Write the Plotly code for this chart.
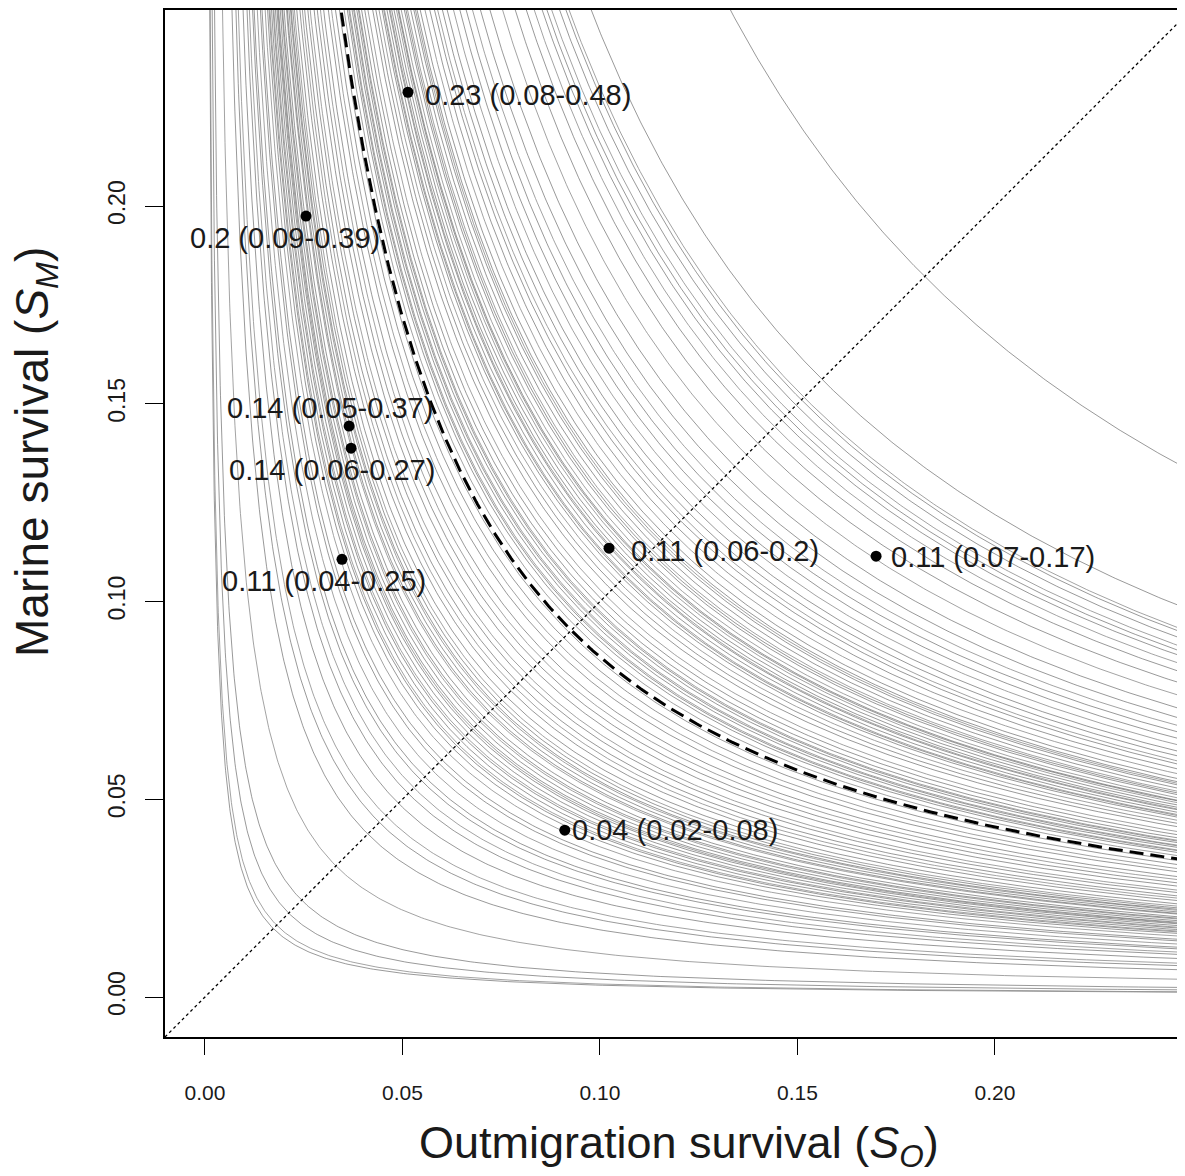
import numpy as np
import plotly.graph_objects as go

# Iso-product curves (S_O * S_M = c), c values
c_values = [
    0.00030, 0.00033, 0.00045, 0.00060, 0.00110, 0.00170, 0.00195, 0.00210,
    0.00240, 0.00265, 0.00280, 0.00300, 0.00310, 0.00330, 0.00350, 0.00360,
    0.00380, 0.00395, 0.00405, 0.00410, 0.00420, 0.00430, 0.00435, 0.00445,
    0.00455, 0.00460, 0.00465, 0.00475, 0.00485, 0.00490, 0.00500, 0.00515,
    0.00520, 0.00530, 0.00540, 0.00545, 0.00555, 0.00565,
    0.00580, 0.00600, 0.00615, 0.00630, 0.00650, 0.00665, 0.00690, 0.00710,
    0.00730, 0.00750, 0.00780, 0.00800, 0.00825, 0.00850, 0.00880, 0.00900,
    0.00910, 0.00915, 0.00930, 0.00940, 0.00945, 0.00960, 0.00970, 0.00975,
    0.00990, 0.01010, 0.01030,
    0.01060, 0.01080, 0.01100, 0.01120, 0.01130, 0.01135, 0.01150, 0.01165,
    0.01170, 0.01180, 0.01195, 0.01210, 0.01220, 0.01225, 0.01240, 0.01260,
    0.01270, 0.01280, 0.01300, 0.01320, 0.01330,
    0.01340, 0.01360, 0.01390, 0.01420, 0.01450, 0.01470, 0.01500, 0.01530,
    0.01570, 0.01610, 0.01650, 0.01690, 0.01740, 0.01800, 0.01880, 0.01960,
    0.02030, 0.02080, 0.02130, 0.02160, 0.02190, 0.02240, 0.02280, 0.02300,
    0.02440, 0.03320,
]
c_median = 0.0086

# Site estimates (outmigration survival, marine survival) and their labels
point_so = [0.0514, 0.0256, 0.0365, 0.0370, 0.0347, 0.1023, 0.1699, 0.0911]
point_sm = [0.2288, 0.1975, 0.1444, 0.1388, 0.1107, 0.1135, 0.1115, 0.0422]
point_labels = [
    "0.23 (0.08-0.48)", "0.2 (0.09-0.39)", "0.14 (0.05-0.37)", "0.14 (0.06-0.27)",
    "0.11 (0.04-0.25)", "0.11 (0.06-0.2)", "0.11 (0.07-0.17)", "0.04 (0.02-0.08)",
]
label_so = [0.0552, 0.0203, 0.0316, 0.0322, 0.0301, 0.1073, 0.1732, 0.0925]
label_sm = [0.2281, 0.1919, 0.1489, 0.1333, 0.1052, 0.1128, 0.1113, 0.0422]
label_anchor = ["left", "center", "center", "center", "center", "left", "left", "left"]

tick_vals = [0.00, 0.05, 0.10, 0.15, 0.20]
tick_text = ["0.00", "0.05", "0.10", "0.15", "0.20"]

x_range = [-0.0101, 0.2481]
y_range = [-0.0101, 0.2496]

FONT = "Liberation Sans, Arial, Helvetica, sans-serif"

fig = go.Figure()

greys = ["rgba(85,85,85,0.6)", "rgba(140,140,140,0.8)", "rgba(70,70,70,0.55)"]
for i, c in enumerate(c_values):
    xs = np.geomspace(c / 0.27, 0.26, 300)
    fig.add_trace(go.Scatter(
        x=xs, y=c / xs, mode="lines",
        line=dict(color=greys[i % 3], width=1),
        hoverinfo="skip", showlegend=False,
    ))

# 1:1 line
fig.add_trace(go.Scatter(
    x=[x_range[0], 0.26], y=[x_range[0], 0.26], mode="lines",
    line=dict(color="black", width=1.3, dash="dot"),
    hoverinfo="skip", showlegend=False,
))

# median curve
xs = np.geomspace(c_median / 0.27, 0.26, 400)
fig.add_trace(go.Scatter(
    x=xs, y=c_median / xs, mode="lines",
    line=dict(color="black", width=3, dash="14px,7px"),
    hoverinfo="skip", showlegend=False,
))

fig.add_trace(go.Scatter(
    x=point_so, y=point_sm, mode="markers",
    marker=dict(color="black", size=11),
    hoverinfo="skip", showlegend=False,
))

annotations = []
for lx, ly, t, a in zip(label_so, label_sm, point_labels, label_anchor):
    annotations.append(dict(
        x=lx, y=ly, xref="x", yref="y", text=t, showarrow=False,
        xanchor=a, yanchor="middle",
        font=dict(family=FONT, size=29, color="#1a1a1a"),
    ))

annotations.append(dict(
    x=(679 - 165) / 1020, y=0, xref="paper", yref="paper",
    text="Outmigration survival (<i>S</i><sub><i>O</i></sub>)",
    showarrow=False, xanchor="center", yanchor="middle", yshift=-108,
    font=dict(family=FONT, size=45, color="#1a1a1a"),
))
annotations.append(dict(
    x=0, y=(1037 - 452) / 1027, xref="paper", yref="paper",
    text="Marine survival (<i>S</i><sub><i>M</i></sub>)",
    showarrow=False, xanchor="center", yanchor="middle", xshift=-129,
    textangle=-90,
    font=dict(family=FONT, size=46, color="#1a1a1a"),
))

# the page body adds an 8px offset; size and margins compensate so the plot
# box sits at x 165..1185 and y 10..1037 in the window
fig.update_layout(
    width=1177, height=1168,
    margin=dict(l=157, r=0, t=2, b=139, autoexpand=False),
    paper_bgcolor="white", plot_bgcolor="white",
    annotations=annotations,
    xaxis=dict(
        range=x_range, showgrid=False, zeroline=False, automargin=False,
        showline=True, linecolor="black", linewidth=1.5, mirror=True,
        ticks="outside", ticklen=16, tickwidth=1.2, tickcolor="black",
        tickvals=tick_vals, ticktext=tick_text, ticklabelstandoff=20,
        tickfont=dict(family=FONT, size=21, color="#1a1a1a"),
    ),
    yaxis=dict(
        range=y_range, showgrid=False, zeroline=False, automargin=False,
        showline=True, linecolor="black", linewidth=1.5,
        ticks="outside", ticklen=18, tickwidth=1.2, tickcolor="black",
        tickvals=tick_vals, ticktext=tick_text, tickangle=-90,
        ticklabelstandoff=11,
        tickfont=dict(family=FONT, size=23, color="#1a1a1a"),
    ),
)

fig.write_html("out.html")
